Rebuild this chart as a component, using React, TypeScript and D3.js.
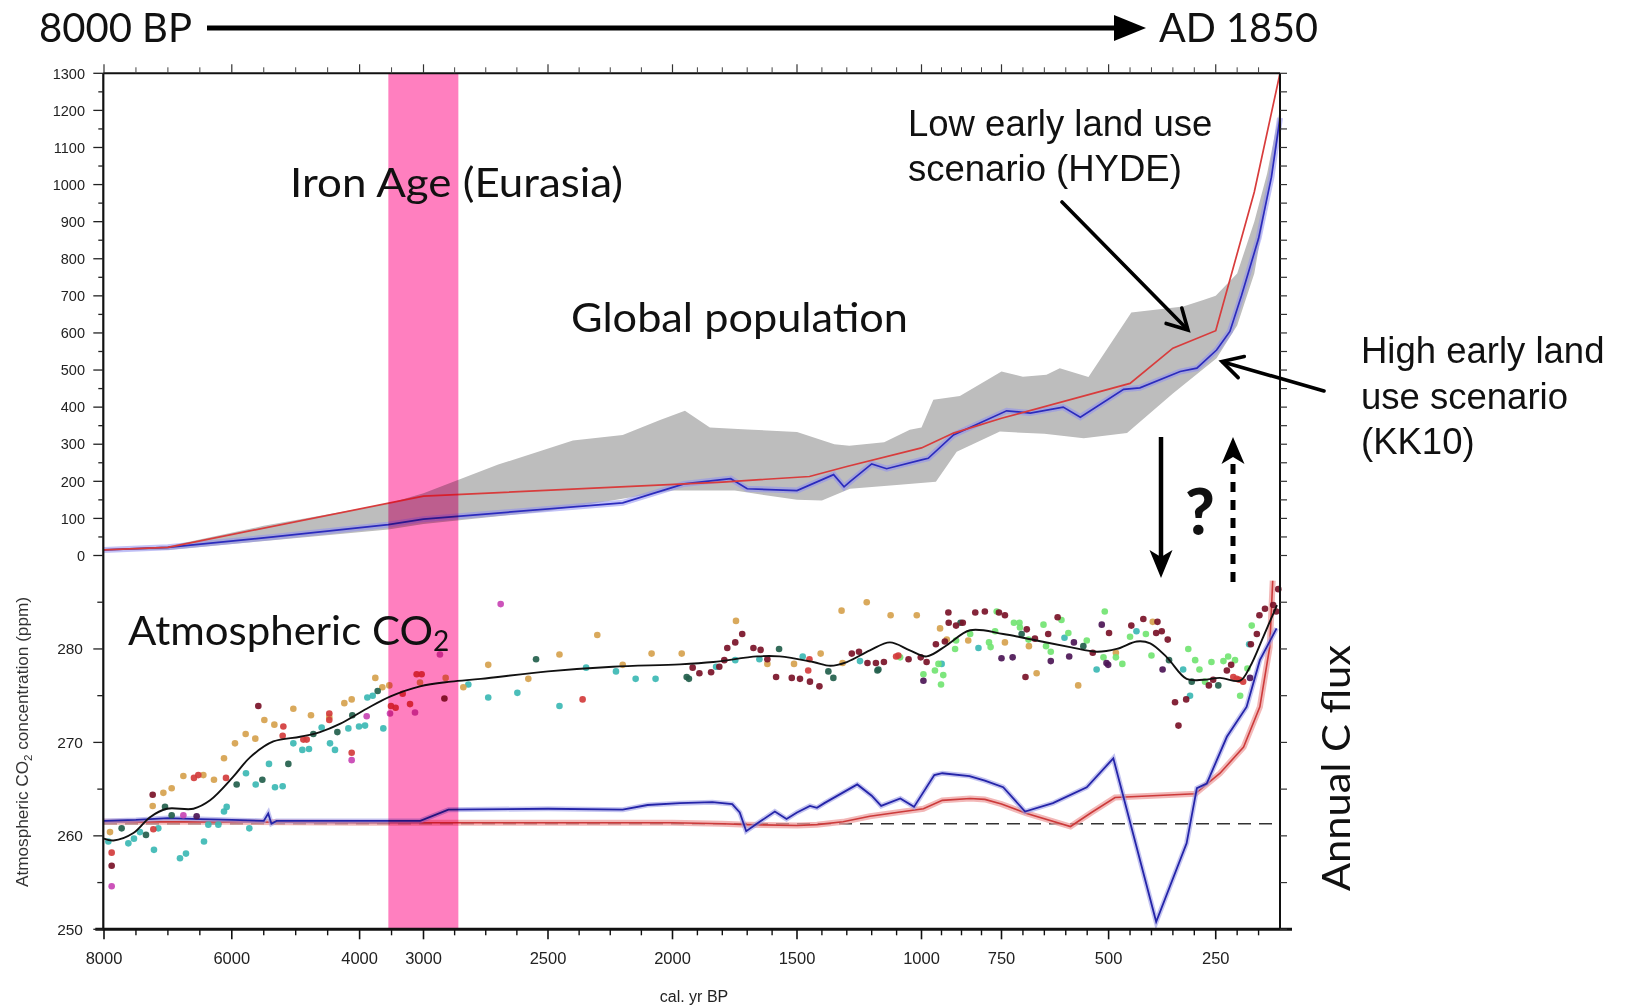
import React from "react";
import * as d3 from "d3";

type Pt = [number, number];

// ---------- axes ----------
// cal. yr BP; the axis is stretched piecewise toward the present
const xBreaks = [8000, 3000, 1000, 750, 100];
const xTickLabels = [8000, 6000, 4000, 3000, 2500, 2000, 1500, 1000, 750, 500, 250];
const xMinorSteps: [number, number, number][] = [
  [8000, 3000, 500],
  [3000, 2000, 125],
  [2000, 1000, 100],
  [1000, 750, 62.5],
  [750, 100, 50],
];
const popTickLabels = [0, 100, 200, 300, 400, 500, 600, 700, 800, 900, 1000, 1100, 1200, 1300];
const co2TickLabels = [250, 260, 270, 280];

// Iron Age (Eurasia), cal. yr BP
const ironAge: Pt = [3550, 2860];

// ---------- global population (millions) ----------
const hydePop: Pt[] = [
  [8000, 15], [7000, 22], [3000, 160], [1800, 198], [1450, 213], [1300, 240],
  [1000, 290], [900, 330], [750, 370], [450, 464], [350, 559], [250, 606],
  [160, 980], [100, 1300],
];
const kk10Pop: Pt[] = [
  [8000, 15], [7000, 22], [5350, 50], [3550, 83], [3000, 98], [2200, 142],
  [1954, 193], [1766, 207], [1700, 180], [1500, 175], [1353, 218], [1311, 185],
  [1287, 199], [1200, 247], [1140, 234], [1000, 258], [979, 262], [900, 325],
  [738, 390], [683, 384], [606, 400], [566, 373], [465, 448], [427, 452],
  [333, 496], [294, 505], [248, 554], [217, 604], [190, 700], [150, 855],
  [120, 1020], [100, 1180],
];
const popRangeUpper: Pt[] = [
  [8000, 15], [7000, 25], [5500, 80], [3550, 140], [3000, 168], [2700, 245],
  [2400, 310], [2200, 325], [2050, 365], [1950, 390], [1850, 345], [1700, 340],
  [1500, 333], [1350, 300], [1290, 296], [1150, 305], [1047, 339], [1000, 345],
  [963, 420], [880, 430], [750, 496], [700, 482], [645, 487], [614, 505],
  [547, 481], [447, 655], [326, 671], [279, 689], [250, 700], [200, 760],
  [160, 900], [130, 1030], [100, 1204],
];
const popRangeLower: Pt[] = [
  [100, 1150], [130, 960], [160, 760], [200, 620], [248, 532], [350, 437],
  [457, 330], [558, 316], [650, 328], [755, 334], [890, 280], [955, 199],
  [1100, 190], [1287, 180], [1400, 148], [1500, 150], [1750, 175], [2000, 175],
  [2500, 120], [3000, 85], [3550, 70], [7000, 15], [8000, 14],
];

// ---------- atmospheric CO2 (ppm) ----------
const co2Spline: Pt[] = [
  [8000, 259.7], [7850, 259.5], [7540, 260.3], [7280, 262.0], [7020, 262.9],
  [6600, 262.9], [6340, 263.8], [5980, 266.3], [5715, 268.4], [5350, 270.1],
  [4930, 270.6], [4620, 271.1], [4300, 272.0], [3890, 273.6], [3525, 274.9],
  [3055, 276.0], [2890, 276.5], [2770, 276.8], [2500, 277.6], [2240, 278.1],
  [1970, 278.35], [1836, 278.6], [1660, 279.2], [1570, 279.2], [1435, 278.6],
  [1366, 278.2], [1300, 278.6], [1207, 279.85], [1127, 280.7], [1047, 279.85],
  [984, 279.2], [921, 280.4], [848, 282.0], [746, 281.6], [668, 280.9],
  [590, 280.2], [528, 279.7], [481, 280.0], [434, 280.8], [403, 280.6],
  [364, 279.1], [318, 276.8], [279, 276.7], [240, 276.9], [193, 276.6],
  [170, 278.1], [139, 281.3], [107, 284.7],
];
// simulated CO2 from land-use emissions (HYDE, KK10)
const fluxHyde: Pt[] = [
  [8000, 261.5], [6000, 261.5], [4000, 261.4], [3000, 261.4], [2000, 261.4],
  [1800, 261.3], [1700, 261.2], [1500, 261.1], [1420, 261.2], [1315, 261.5],
  [1207, 262.1], [1100, 262.5], [994, 262.9], [935, 263.8], [848, 264.0],
  [802, 263.9], [750, 263.4], [691, 262.4], [589, 261.0], [540, 262.5],
  [485, 264.1], [372, 264.35], [298, 264.5], [240, 266.7], [185, 269.5],
  [147, 273.8], [124, 280.2], [117, 287.3],
];
const fluxKK10: Pt[] = [
  [8000, 261.6], [7500, 261.7], [7000, 261.9], [6500, 261.8], [6000, 261.7],
  [5500, 261.6], [5430, 262.4], [5380, 261.3], [5300, 261.6], [4500, 261.6],
  [3500, 261.6], [3050, 261.6], [2900, 262.8], [2500, 262.9], [2200, 262.8],
  [2100, 263.3], [1970, 263.5], [1840, 263.6], [1760, 263.4], [1730, 262.5],
  [1704, 260.5], [1650, 261.5], [1589, 262.6], [1542, 261.8], [1500, 262.5],
  [1448, 263.2], [1420, 263.0], [1390, 263.5], [1258, 265.5], [1200, 264.3],
  [1162, 263.2], [1085, 264.0], [1030, 263.1], [960, 266.5], [935, 266.7],
  [850, 266.4], [802, 265.9], [746, 265.2], [695, 262.6], [630, 263.5],
  [551, 265.2], [489, 268.3], [389, 250.8], [318, 259.2], [294, 265.1],
  [271, 265.6], [224, 270.6], [178, 273.8], [147, 278.8], [108, 282.2],
];
const fluxBaseline = 261.3;

// ice-core CO2 measurements, grouped by record
const dotsTan: Pt[] = [
  [7906, 260.4], [7238, 263.2], [7071, 264.6], [6941, 265.1], [6758, 266.4], [6445, 266.5],
  [6279, 266.0], [6122, 268.3], [5950, 269.9], [5783, 270.9], [5632, 270.4], [5491, 272.4],
  [5334, 271.9], [5037, 273.6], [4761, 272.9], [4474, 272.7], [4239, 274.2], [4124, 274.6],
  [3754, 276.9], [3644, 275.9], [3535, 276.1], [3055, 276.4], [2911, 276.9], [2840, 275.9],
  [2740, 278.3], [2579, 276.8], [2454, 279.4], [2302, 281.5], [2200, 278.3], [2084, 279.5],
  [1963, 279.5], [1745, 283.0], [1619, 278.4], [1512, 278.4], [1405, 279.5], [1321, 284.1],
  [1317, 278.5], [1220, 285.0], [1124, 283.6], [1019, 283.6], [942, 282.2], [921, 281.0],
  [854, 280.9], [742, 280.7], [686, 280.3], [668, 277.4], [571, 276.1], [483, 279.6],
  [397, 282.9],
];
const dotsTeal: Pt[] = [
  [7932, 259.4], [7619, 259.2], [7531, 259.7], [7437, 260.4], [7218, 258.5], [7150, 260.8],
  [6811, 257.6], [6717, 258.1], [6435, 259.4], [6367, 261.2], [6211, 261.2], [6122, 262.6],
  [6080, 263.1], [5778, 266.7], [5726, 260.8], [5626, 265.5], [5418, 267.7], [5324, 265.2],
  [5204, 265.3], [5037, 269.9], [4896, 269.2], [4792, 269.3], [4594, 271.6], [4463, 269.9],
  [4385, 269.2], [4176, 271.5], [4009, 271.7], [3915, 271.8], [3879, 274.8], [3795, 275.0],
  [3629, 271.5], [2820, 276.2], [2740, 274.8], [2623, 275.3], [2454, 273.9], [2347, 278.0],
  [2227, 277.6], [2148, 276.8], [2068, 276.8], [1825, 278.1], [1748, 278.8], [1651, 278.9],
  [1477, 279.2], [1247, 278.7], [937, 278.4], [822, 280.1], [603, 281.2], [528, 277.8],
  [435, 281.9], [326, 277.8], [310, 275.0], [172, 280.5],
];
const dotsDarkGreen: Pt[] = [
  [7724, 260.8], [7343, 260.1], [7045, 263.1], [6941, 262.2], [5924, 265.5], [5522, 266.0],
  [5115, 267.7], [4724, 270.9], [4348, 271.1], [4114, 272.9], [3717, 275.5], [2548, 278.9],
  [1943, 277.0], [1934, 276.8], [1572, 280.0], [1374, 277.6], [1354, 276.9], [1177, 277.7],
  [1173, 277.8], [878, 282.8], [703, 281.6], [559, 280.3], [359, 278.8], [306, 276.5],
  [244, 276.1],
];
const dotsRed: Pt[] = [
  [7880, 258.2], [7228, 260.7], [6592, 266.2], [6524, 266.5], [6091, 266.2], [5193, 271.7],
  [5204, 270.7], [4880, 270.3], [4828, 270.3], [4474, 273.1], [4474, 272.4], [4124, 268.9],
  [3509, 273.9], [3436, 273.7], [3326, 275.2], [3211, 274.1], [3107, 277.3], [3029, 277.3],
  [2361, 274.6], [1455, 277.7], [1450, 278.9], [1102, 279.2], [1093, 279.3], [209, 277.0],
  [201, 276.8], [195, 276.7], [186, 276.5],
];
const dotsDarkRed: Pt[] = [
  [7880, 256.8], [7238, 264.4], [5585, 273.9], [2916, 274.7], [1919, 278.0], [1892, 277.4],
  [1845, 277.5], [1812, 278.1], [1792, 278.8], [1780, 280.1], [1748, 280.7], [1720, 281.6],
  [1675, 280.1], [1646, 279.9], [1619, 278.9], [1584, 277.0], [1521, 276.9], [1488, 276.8],
  [1448, 276.5], [1410, 276.0], [1280, 279.5], [1251, 279.7], [1217, 278.5], [1183, 278.5],
  [1151, 278.6], [1052, 278.9], [1003, 279.1], [984, 278.6], [955, 280.5], [927, 280.8],
  [916, 283.9], [915, 282.8], [892, 282.5], [871, 282.8], [832, 283.9], [802, 284.0],
  [758, 283.9], [742, 283.6], [694, 277.0], [691, 282.1], [672, 281.1], [641, 281.6],
  [619, 283.4], [537, 279.6], [499, 281.7], [447, 282.5], [419, 283.2], [389, 281.7],
  [386, 282.9], [376, 281.9], [362, 281.0], [345, 274.3], [337, 271.8], [319, 274.6],
  [266, 276.1], [256, 276.7], [224, 277.7], [214, 278.3], [168, 280.5], [154, 281.6],
  [148, 283.6], [135, 284.3], [116, 284.7], [109, 284.0], [104, 286.4],
];
const dotsMagenta: Pt[] = [
  [7880, 254.6], [6758, 262.2], [4124, 268.1], [3889, 272.8], [3524, 273.1], [3133, 273.2],
  [2934, 279.4], [2690, 284.8],
];
const dotsLime: Pt[] = [
  [1086, 279.1], [994, 277.3], [958, 277.7], [947, 278.4], [939, 276.2], [932, 277.2],
  [895, 280.0], [892, 280.9], [848, 281.6], [789, 280.7], [784, 280.2], [770, 281.9],
  [765, 284.0], [721, 282.8], [708, 282.8], [707, 282.3], [687, 281.0], [652, 282.6],
  [646, 280.3], [635, 279.7], [610, 283.1], [594, 281.7], [551, 280.9], [512, 279.1],
  [509, 284.0], [483, 279.1], [468, 278.4], [450, 281.3], [413, 281.6], [400, 279.3],
  [314, 280.0], [298, 278.8], [288, 277.8], [275, 276.5], [260, 278.6], [232, 278.7],
  [221, 279.2], [205, 278.8], [193, 275.0], [176, 277.9], [166, 282.5],
];
const dotsPurple: Pt[] = [
  [6550, 262.1], [994, 276.6], [750, 279.0], [724, 279.1], [635, 278.7], [592, 279.2],
  [581, 280.7], [516, 282.6], [505, 278.5], [501, 278.3], [374, 277.8], [170, 276.9],
];

const dotGroups: { pts: Pt[]; color: string }[] = [
  { pts: dotsTeal, color: "#3cb8b4" },
  { pts: dotsTan, color: "#d6a24e" },
  { pts: dotsLime, color: "#72e472" },
  { pts: dotsDarkGreen, color: "#23604c" },
  { pts: dotsRed, color: "#d23c3c" },
  { pts: dotsMagenta, color: "#c844b4" },
  { pts: dotsPurple, color: "#4c1656" },
  { pts: dotsDarkRed, color: "#7a1228" },
];

// ---------- layout ----------
const W = 1625;
const H = 1005;
const L = 103.3;
const R = 1280;
const T = 73.3;
const B = 929.3;
const MID = 555.5;

function vHead(x1: number, y1: number, x2: number, y2: number, len: number, half: number) {
  const a = Math.atan2(y2 - y1, x2 - x1);
  const bx = x2 - len * Math.cos(a);
  const by = y2 - len * Math.sin(a);
  const nx = -Math.sin(a) * half;
  const ny = Math.cos(a) * half;
  return `${bx + nx},${by + ny} ${x2},${y2} ${bx - nx},${by - ny}`;
}

export default function App() {
  const x = d3.scaleLinear().domain(xBreaks).range([104, 423.5, 921.5, 1001.5, R]);
  const yPop = d3.scaleLinear().domain([0, 1300]).range([MID, T]);
  const yCo2 = d3.scaleLinear().domain([250, 290]).range([B, MID]);

  const popLine = d3.line<Pt>().x((d) => x(d[0])).y((d) => yPop(d[1]));
  const co2Line = d3.line<Pt>().x((d) => x(d[0])).y((d) => yCo2(d[1]));
  const co2Smooth = d3
    .line<Pt>()
    .x((d) => x(d[0]))
    .y((d) => yCo2(d[1]))
    .curve(d3.curveCatmullRom.alpha(0.5));

  const bandPath = popLine([...popRangeUpper, ...popRangeLower]) + "Z";

  const minorTicks = xMinorSteps
    .flatMap(([a, b, s]) => d3.range(a, b, -s))
    .filter((v) => !xTickLabels.includes(v));

  const popTicksAll = d3.range(0, 1301, 50);
  const co2TicksAll = d3.range(250, 290, 5);

  const tickFont = "Liberation Sans, Arial, sans-serif";
  const noteFont = "Lato, 'Open Sans', sans-serif";

  return (
    <svg
      width={W}
      height={H}
      viewBox={`0 0 ${W} ${H}`}
      style={{ position: "absolute", left: 0, top: 0, background: "#fff" }}
      fontFamily={tickFont}
    >
      <rect x={0} y={0} width={W} height={H} fill="#fff" />

      {/* population range and scenarios */}
      <path d={bandPath} fill="#bdbdbd" />
      <path d={popLine(kk10Pop)!} fill="none" stroke="#8f8ff0" strokeOpacity={0.55} strokeWidth={6} />
      <path d={popLine(kk10Pop)!} fill="none" stroke="#2b2bbd" strokeWidth={1.7} />
      <path d={popLine(hydePop)!} fill="none" stroke="#d83c3c" strokeWidth={1.7} />

      {/* CO2 from land use */}
      <line
        x1={x(8000)}
        x2={x(100)}
        y1={yCo2(fluxBaseline)}
        y2={yCo2(fluxBaseline)}
        stroke="#333"
        strokeWidth={1.6}
        strokeDasharray="13 8"
      />
      <path d={co2Line(fluxHyde)!} fill="none" stroke="#eea0a0" strokeOpacity={0.75} strokeWidth={6} />
      <path d={co2Line(fluxHyde)!} fill="none" stroke="#cc3a3a" strokeWidth={1.6} />
      <path d={co2Line(fluxKK10)!} fill="none" stroke="#9c9ce6" strokeOpacity={0.6} strokeWidth={5} />
      <path d={co2Line(fluxKK10)!} fill="none" stroke="#2424a8" strokeWidth={1.8} />

      {/* measured CO2 */}
      {dotGroups.map((g, gi) =>
        g.pts.map((d, i) => (
          <circle key={`${gi}-${i}`} cx={x(d[0])} cy={yCo2(d[1])} r={3.3} fill={g.color} fillOpacity={0.92} />
        ))
      )}
      <path d={co2Smooth(co2Spline)!} fill="none" stroke="#111" strokeWidth={1.9} />

      {/* Iron Age band */}
      <rect
        x={x(ironAge[0])}
        y={T}
        width={x(ironAge[1]) - x(ironAge[0])}
        height={B - T}
        fill="#ff7fbf"
        style={{ mixBlendMode: "multiply" }}
      />

      {/* frame */}
      <line x1={L} x2={R} y1={T} y2={T} stroke="#111" strokeWidth={2} />
      <line x1={R} x2={R} y1={T} y2={B} stroke="#111" strokeWidth={2} />
      <line x1={L} x2={L} y1={T} y2={B + 1} stroke="#111" strokeWidth={2.2} />
      <line x1={L - 8} x2={R + 12} y1={B} y2={B} stroke="#111" strokeWidth={3} />

      {/* bottom / top x ticks */}
      {xTickLabels.map((v) => (
        <g key={`xt${v}`}>
          <line x1={x(v)} x2={x(v)} y1={B} y2={B + 10} stroke="#111" strokeWidth={1.6} />
          <line x1={x(v)} x2={x(v)} y1={T} y2={T - 9} stroke="#333" strokeWidth={1.2} />
          <text x={x(v)} y={964} fontSize={16.5} textAnchor="middle" fill="#222">
            {v}
          </text>
        </g>
      ))}
      {minorTicks.map((v) => (
        <g key={`xm${v}`}>
          <line x1={x(v)} x2={x(v)} y1={B} y2={B + 6} stroke="#111" strokeWidth={1.4} />
          <line x1={x(v)} x2={x(v)} y1={T} y2={T - 6} stroke="#444" strokeWidth={1} />
        </g>
      ))}
      <text x={694} y={1002} fontSize={16} textAnchor="middle" fill="#222">
        cal. yr BP
      </text>

      {/* population ticks */}
      {popTicksAll.map((v) => (
        <g key={`pt${v}`}>
          <line
            x1={L - (v % 100 === 0 ? 10 : 5)}
            x2={L}
            y1={yPop(v)}
            y2={yPop(v)}
            stroke="#222"
            strokeWidth={1.3}
          />
          <line x1={R} x2={R + 7} y1={yPop(v)} y2={yPop(v)} stroke="#333" strokeWidth={1.2} />
        </g>
      ))}
      {popTickLabels.map((v) => (
        <text key={`pl${v}`} x={85} y={yPop(v) + 5.2} fontSize={14.5} textAnchor="end" fill="#222">
          {v}
        </text>
      ))}

      {/* CO2 ticks */}
      {co2TicksAll.map((v) => (
        <g key={`ct${v}`}>
          <line
            x1={L - (v % 10 === 0 ? 10 : 6)}
            x2={L}
            y1={yCo2(v)}
            y2={yCo2(v)}
            stroke="#222"
            strokeWidth={1.3}
          />
          <line x1={R} x2={R + 7} y1={yCo2(v)} y2={yCo2(v)} stroke="#333" strokeWidth={1.2} />
        </g>
      ))}
      {co2TickLabels.map((v) => (
        <text key={`cl${v}`} x={83} y={yCo2(v) + 5.5} fontSize={15.5} textAnchor="end" fill="#222">
          {v}
        </text>
      ))}
      <text
        transform={`translate(28,742) rotate(-90)`}
        fontSize={16.5}
        textAnchor="middle"
        fill="#333"
        textLength={290}
        lengthAdjust="spacingAndGlyphs"
      >
        Atmospheric CO<tspan fontSize={11} dy={4}>2</tspan>
        <tspan dy={-4}> concentration (ppm)</tspan>
      </text>

      {/* header timeline */}
      <text x={39} y={41.5} fontFamily={noteFont} fontSize={40} fill="#111" textLength={153} lengthAdjust="spacingAndGlyphs">
        8000 BP
      </text>
      <line x1={207} x2={1120} y1={28} y2={28} stroke="#000" strokeWidth={5} />
      <polygon points="1114,15 1146,28 1114,41" fill="#000" />
      <text x={1159} y={41.5} fontFamily={noteFont} fontSize={40} fill="#111" textLength={159} lengthAdjust="spacingAndGlyphs">
        AD 1850
      </text>

      {/* panel annotations */}
      <text x={290} y={196.5} fontFamily={noteFont} fontSize={41} fill="#111" textLength={333} lengthAdjust="spacingAndGlyphs">
        Iron Age (Eurasia)
      </text>
      <text x={571} y={331.5} fontFamily={noteFont} fontSize={41} fill="#111" textLength={337} lengthAdjust="spacingAndGlyphs">
        Global population
      </text>
      <text x={128} y={645} fontFamily={noteFont} fontSize={41} fill="#111">
        <tspan textLength={305} lengthAdjust="spacingAndGlyphs">Atmospheric CO</tspan>
        <tspan fontSize={28} dy={6}>2</tspan>
      </text>
      <text
        transform="translate(1350,891) rotate(-90)"
        fontFamily={noteFont}
        fontSize={39}
        fill="#111"
        textLength={246}
        lengthAdjust="spacingAndGlyphs"
      >
        Annual C flux
      </text>

      <g fontFamily={tickFont} fontSize={36.5} fill="#111">
        <text x={908} y={135.5}>Low early land use</text>
        <text x={908} y={181}>scenario (HYDE)</text>
        <text x={1361} y={363}>High early land</text>
        <text x={1361} y={408.5}>use scenario</text>
        <text x={1361} y={454}>(KK10)</text>
      </g>

      {/* pointers */}
      <g stroke="#000" strokeWidth={3.6} fill="none" strokeLinecap="round">
        <line x1={1062} y1={202} x2={1187} y2={329} />
        <polyline points={vHead(1062, 202, 1188, 330, 20, 11)} />
        <line x1={1324} y1={391} x2={1223} y2={362} />
        <polyline points={vHead(1324, 391, 1222, 361.5, 20, 11)} />
      </g>

      {/* land use <-> CO2 feedback */}
      <line x1={1161} x2={1161} y1={437} y2={560} stroke="#000" strokeWidth={4.5} />
      <polygon points="1149.5,550 1161,578 1172.5,550 1161,557" fill="#000" />
      <line
        x1={1233}
        x2={1233}
        y1={582}
        y2={457}
        stroke="#000"
        strokeWidth={5}
        strokeDasharray="10 8"
      />
      <polygon points="1221.5,464 1233,437 1244.5,464 1233,457" fill="#000" />
      <text x={1200} y={535} fontFamily={noteFont} fontWeight={900} fontSize={64} textAnchor="middle" fill="#111">
        ?
      </text>
    </svg>
  );
}
